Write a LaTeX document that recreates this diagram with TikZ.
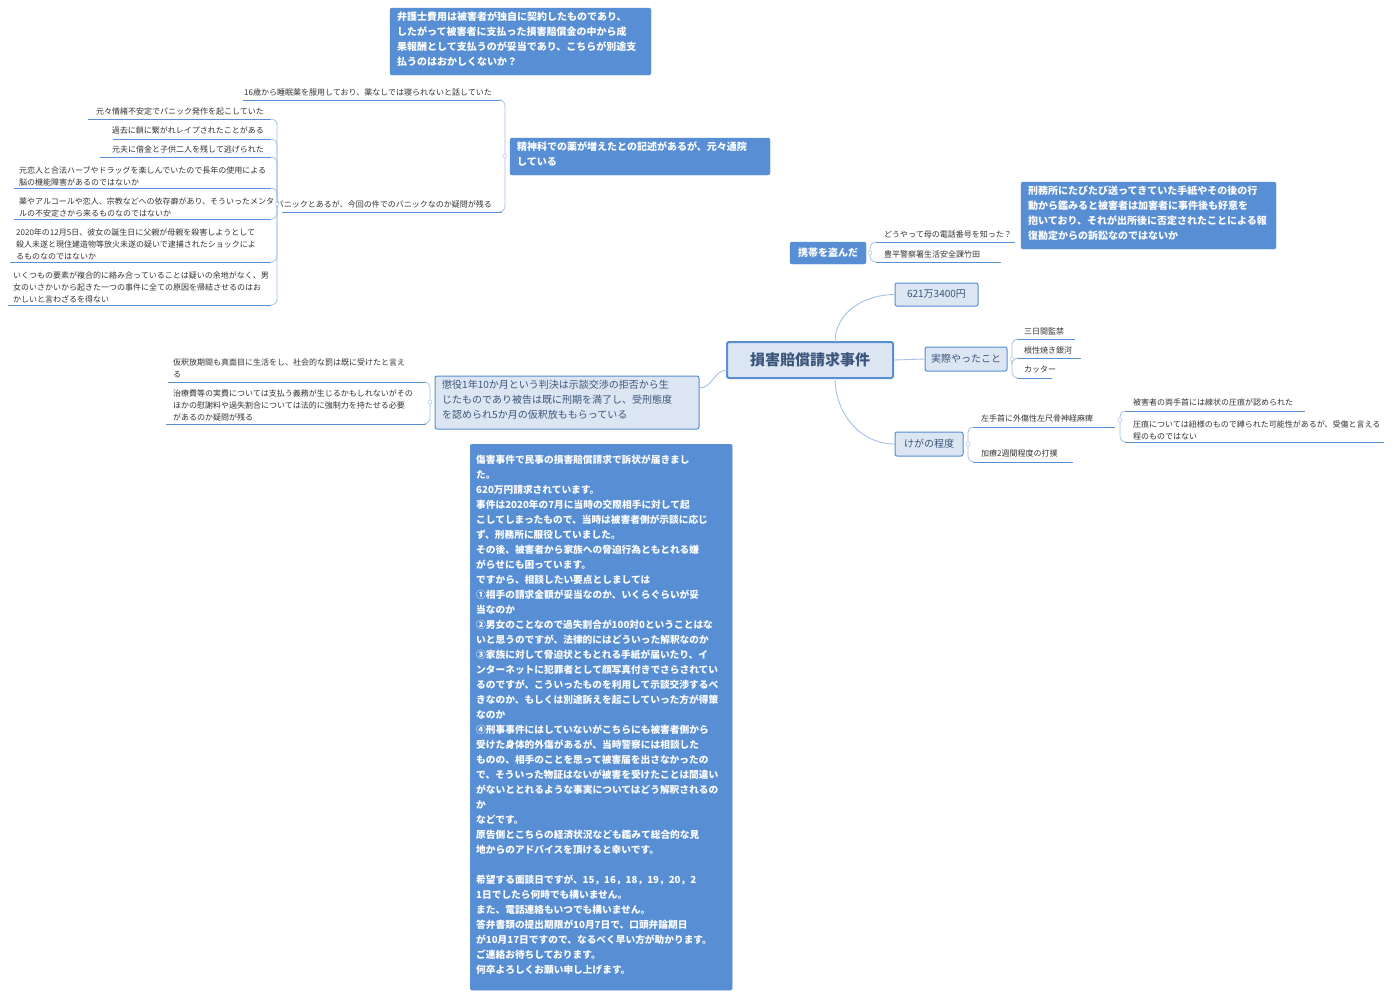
\documentclass[tikz,border=0pt]{standalone}
\usepackage{fontspec}
\setmainfont{Noto Sans CJK JP}
\begin{document}
\begin{tikzpicture}[x=1pt,y=-1pt,
  dark/.style={draw=blueD,fill=blueD,rounded corners=2pt,inner sep=0pt},
  darktext/.style={anchor=north west,text=white,font=\fontsize{10}{15}\selectfont\bfseries,align=left,inner sep=0pt},
  lite/.style={draw=blueD,fill=blueL,line width=1pt,rounded corners=2pt,text=textD,align=left,inner sep=0pt},
  leaf/.style={font=\fontsize{8}{12}\selectfont,text=black!80,align=left,inner sep=0pt},
  uline/.style={draw=blueD,line width=0.9pt},
  conn/.style={draw=blueC,line width=0.8pt,rounded corners=6pt},
  curve/.style={draw=blueC,line width=0.9pt},
  knob/.style={circle,draw=blueC,fill=white,inner sep=0pt,minimum size=4pt}]
\definecolor{blueD}{RGB}{88,142,212}
\definecolor{blueL}{RGB}{220,230,242}
\definecolor{textD}{RGB}{60,85,125}
\definecolor{blueC}{RGB}{165,193,230}
\useasboundingbox (0,0) rectangle (1398,999);
\fill[white] (0,0) rectangle (1398,999);

% floating dark boxes
\node[dark,minimum width=261,minimum height=67] (bengo) at (520.5,41.5) {};
\node[darktext] (bengot) at (397,12) {弁護士費用は被害者が独自に契約したものであり、\\したがって被害者に支払った損害賠償金の中から成\\果報酬として支払うのが妥当であり、こちらが別途支\\払うのはおかしくないか？};
\node[dark,minimum width=255,minimum height=67] (keimu) at (1148.5,215.5) {};
\node[darktext] (keimut) at (1028,186) {刑務所にたびたび送ってきていた手紙やその後の行\\動から鑑みると被害者は加害者に事件後も好意を\\抱いており、それが出所後に否定されたことによる報\\復勘定からの訴訟なのではないか};

% center
\node[lite,line width=2pt,minimum width=166,minimum height=36,font=\fontsize{15}{18}\selectfont\bfseries] (center) at (810,360) {損害賠償請求事件};

% 621
\node[lite,minimum width=83,minimum height=23,font=\fontsize{10}{12}\selectfont] (amt) at (936.5,294.5) {621万3400円};
\draw[curve] (835,342) to[out=90,in=180] (amt.west);

% jissai
\node[lite,minimum width=82,minimum height=24,font=\fontsize{10}{12}\selectfont] (jissai) at (966,359) {実際やったこと};
\draw[curve] (center.east) -- (jissai.west);
\coordinate (jp) at (1012,359);
\node[leaf,anchor=base west] (j1) at (1024,334) {三日間監禁};
\node[leaf,anchor=base west] (j2) at (1024,353) {根性焼き銀河};
\node[leaf,anchor=base west] (j3) at (1024,372) {カッター};
\draw[uline] (1017,339) -- (1075,339);
\draw[uline] (1017,358) -- (1081,358);
\draw[uline] (1017,378) -- (1052,378);
\draw[conn] (jp) |- (1017,339);
\draw[conn] (jp) |- (1017,358);
\draw[conn] (jp) |- (1017,378);
\node[knob] at (jp) {};

% kega
\node[lite,minimum width=68,minimum height=24,font=\fontsize{10}{12}\selectfont] (kega) at (929,444) {けがの程度};
\draw[curve] (835,378) to[out=270,in=180] (kega.west);
\coordinate (kp) at (968,444);
\node[leaf,anchor=base west] (k1) at (981,421) {左手首に外傷性左尺骨神経麻痺};
\node[leaf,anchor=base west] (k2) at (981,456) {加療2週間程度の打撲};
\draw[uline] (973,427) -- (1115,427);
\draw[uline] (973,462) -- (1073,462);
\draw[conn] (kp) |- (973,427);
\draw[conn] (kp) |- (973,462);
\node[knob] at (kp) {};
\coordinate (k1p) at (1120,420);
\node[leaf,anchor=base west] (k11) at (1133,405) {被害者の両手首には線状の圧痕が認められた};
\node[leaf,anchor=south west] (k12) at (1133,440) {圧痕については紐様のもので縛られた可能性があるが、受傷と言える\\程のものではない};
\draw[uline] (1125,411) -- (1305,411);
\draw[uline] (1125,442) -- (1384,442);
\draw[conn] (k1p) |- (1125,411);
\draw[conn] (k1p) |- (1125,442);
\node[knob] at (k1p) {};

% keitai
\node[dark,minimum width=76,minimum height=22,text=white,font=\fontsize{10}{12}\selectfont\bfseries] (keitai) at (828,253) {携帯を盗んだ};
\coordinate (kep) at (870,253);
\node[leaf,anchor=base west] (ke1) at (884,237) {どうやって母の電話番号を知った？};
\node[leaf,anchor=base west] (ke2) at (884,257) {豊平警察署生活安全課竹田};
\draw[uline] (876,242) -- (1015,242);
\draw[uline] (876,262) -- (1001,262);
\draw[conn] (kep) |- (876,242);
\draw[conn] (kep) |- (876,262);
\node[knob] at (kep) {};

% seishin
\node[dark,minimum width=260,minimum height=37] (seishin) at (640,156.5) {};
\node[darktext] (seishint) at (517,142) {精神科での薬が増えたとの記述があるが、元々通院\\している};
\coordinate (sp) at (505,156);
\node[leaf,anchor=base east] (s1) at (492,95) {16歳から睡眠薬を服用しており、薬なしでは寝られないと話していた};
\node[leaf,anchor=base east] (s2) at (492,207) {パニックとあるが、今回の件でのパニックなのか疑問が残る};
\draw[uline] (243,100) -- (502,100);
\draw[uline] (282,212) -- (502,212);
\draw[conn] (sp) |- (502,100);
\draw[conn] (sp) |- (502,212);
\node[knob] at (sp) {};
\coordinate (pp) at (277,204);
\node[leaf,anchor=base east] (p1) at (264,114) {元々情緒不安定でパニック発作を起こしていた};
\node[leaf,anchor=base east] (p2) at (264,133) {過去に鎖に繋がれレイプされたことがある};
\node[leaf,anchor=base east] (p3) at (264,152) {元夫に借金と子供二人を残して逃げられた};
\node[leaf,anchor=south west] (p4) at (19,186) {元恋人と合法ハーブやドラッグを楽しんでいたので長年の使用による\\脳の機能障害があるのではないか};
\node[leaf,anchor=south west] (p5) at (19,217) {薬やアルコールや恋人、宗教などへの依存癖があり、そういったメンタ\\ルの不安定さから来るものなのではないか};
\node[leaf,anchor=south west] (p6) at (16,260) {2020年の12月5日、彼女の誕生日に父親が母親を殺害しようとして\\殺人未遂と現住建造物等放火未遂の疑いで逮捕されたショックによ\\るものなのではないか};
\node[leaf,anchor=south west] (p7) at (13,303) {いくつもの要素が複合的に絡み合っていることは疑いの余地がなく、男\\女のいさかいから起きた一つの事件に全ての原因を帰結させるのはお\\かしいと言わざるを得ない};
\foreach \a/\b in {88/119,113/139,100/157,14/188,14/219,10/262,8/305}{
  \draw[uline] (\a,\b) -- (271,\b);
  \draw[conn] (pp) |- (271,\b);
}
\node[knob] at (pp) {};

% choeki
\node[lite,minimum width=264,minimum height=53] (choeki) at (567,402.5) {};
\node[anchor=north west,inner sep=0pt,align=left,text=textD,font=\fontsize{10}{15}\selectfont] (choekit) at (442,380) {懲役1年10か月という判決は示談交渉の拒否から生\\じたものであり被告は既に刑期を満了し、受刑態度\\を認められ5か月の仮釈放ももらっている};
\draw[curve] (727,370) to[out=180,in=0] (choeki.east |- 0,388);
\coordinate (cp) at (430,402);
\node[leaf,anchor=south west] (c1) at (173,378) {仮釈放期間も真面目に生活をし、社会的な罰は既に受けたと言え\\る};
\node[leaf,anchor=south west] (c2) at (173,421) {治療費等の実費については支払う義務が生じるかもしれないがその\\ほかの慰謝料や過失割合については法的に強制力を持たせる必要\\があるのか疑問が残る};
\draw[uline] (168,382) -- (426,382);
\draw[uline] (166,424) -- (426,424);
\draw[conn] (cp) |- (426,382);
\draw[conn] (cp) |- (426,424);
\node[knob] at (cp) {};

% big bottom box
\node[dark,minimum width=262,minimum height=546,anchor=north west] (big) at (470,444) {};
\node[darktext,font=\fontsize{9.7}{15}\selectfont\bfseries] (bigtext) at (476,455) {傷害事件で民事の損害賠償請求で訴状が届きまし\\た。\\620万円請求されています。\\事件は2020年の7月に当時の交際相手に対して起\\こしてしまったもので、当時は被害者側が示談に応じ\\ず、刑務所に服役していました。\\その後、被害者から家族への脅迫行為ともとれる嫌\\がらせにも困っています。\\ですから、相談したい要点としましては\\①相手の請求金額が妥当なのか、いくらぐらいが妥\\当なのか\\②男女のことなので過失割合が100対0ということはな\\いと思うのですが、法律的にはどういった解釈なのか\\③家族に対して脅迫状ともとれる手紙が届いたり、イ\\ンターネットに犯罪者として顔写真付きでさらされてい\\るのですが、こういったものを利用して示談交渉するべ\\きなのか、もしくは別途訴えを起こしていった方が得策\\なのか\\④刑事事件にはしていないがこちらにも被害者側から\\受けた身体的外傷があるが、当時警察には相談した\\ものの、相手のことを思って被害届を出さなかったの\\で、そういった物証はないが被害を受けたことは間違い\\がないととれるような事実についてはどう解釈されるの\\か\\などです。\\原告側とこちらの経済状況なども鑑みて総合的な見\\地からのアドバイスを頂けると幸いです。\\[15pt]希望する面談日ですが、15，16，18，19，20，2\\1日でしたら何時でも構いません。\\また、電話連絡もいつでも構いません。\\答弁書類の提出期限が10月7日で、口頭弁論期日\\が10月17日ですので、なるべく早い方が助かります。\\ご連絡お待ちしております。\\何卒よろしくお願い申し上げます。};
\end{tikzpicture}
\end{document}
